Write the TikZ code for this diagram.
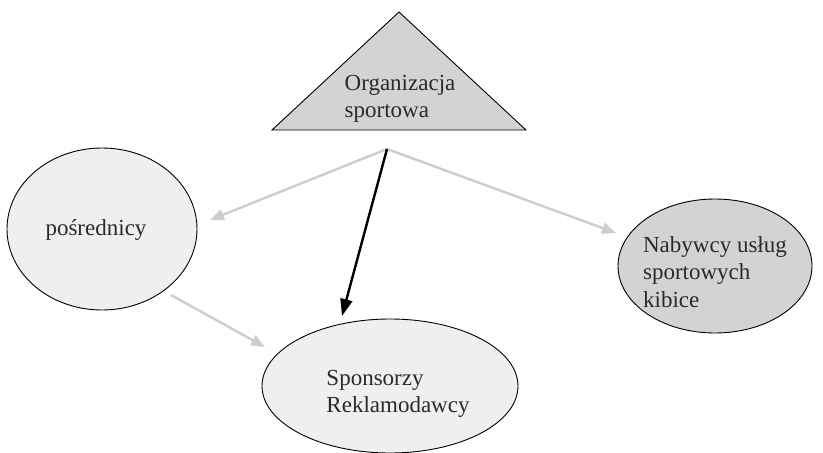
\documentclass[tikz,border=0pt]{standalone}
\usepackage{fontspec}
\setmainfont{Liberation Serif}
\usetikzlibrary{arrows.meta}
\definecolor{shadeA}{HTML}{D3D3D3}
\definecolor{shadeB}{HTML}{EFEFF0}
\definecolor{linkgray}{HTML}{CDCDCD}
\definecolor{inkgray}{HTML}{2A2A2A}
\begin{document}
\begin{tikzpicture}[x=1pt,y=-1pt,
  lbl/.style={font=\fontsize{23}{27.5}\selectfont, text=inkgray, align=left, inner sep=0pt},
  oval/.style={draw=black, line width=0.9pt},
  softlink/.style={draw=linkgray, line width=2.4pt, -{Triangle[length=14pt,width=11pt]}},
  mainlink/.style={draw=black, line width=2.4pt, -{Triangle[length=17pt,width=12pt]}}]
\useasboundingbox (0,0) rectangle (823,453);

% central organisation (triangle)
\filldraw[fill=shadeA, draw=black, line width=0.9pt] (399,12) -- (526,130) -- (272,130) -- cycle;
\node[lbl] (org) at (400,99) {Organizacja\\sportowa};

% partner groups
\filldraw[oval, fill=shadeB] (102,229) ellipse [x radius=95, y radius=81];
\node[lbl] (posr) at (96,230) {pośrednicy};

\filldraw[oval, fill=shadeA] (715,266) ellipse [x radius=97, y radius=67];
\node[lbl] (naby) at (715,272) {Nabywcy usług\\sportowych\\kibice};

\filldraw[oval, fill=shadeB] (390,386) ellipse [x radius=128, y radius=67];
\node[lbl] (spon) at (398,394) {Sponsorzy\\Reklamodawcy};

% connector end points
\coordinate (hub) at (387,149);
\coordinate (tipPosr) at (210,220);
\coordinate (tipNaby) at (616,233);
\coordinate (tipSpon) at (342,316);
\coordinate (fromPosr) at (171,295);
\coordinate (tipSpon2) at (265,347);

\draw[softlink] (hub) -- (tipPosr);
\draw[softlink] (hub) -- (tipNaby);
\draw[softlink] (fromPosr) -- (tipSpon2);
\draw[mainlink] (hub) -- (tipSpon);
\end{tikzpicture}
\end{document}
